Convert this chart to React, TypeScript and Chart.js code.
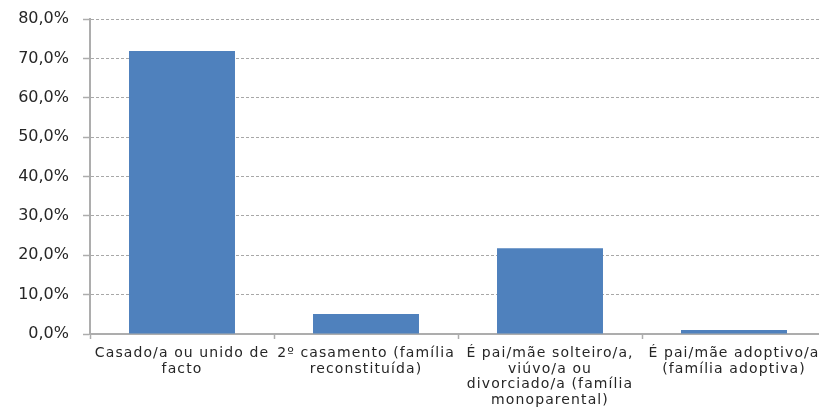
import React, { useEffect, useRef } from "react";
import { Chart, registerables } from "chart.js";

Chart.register(...registerables);

const categories: string[][] = [
  ["Casado/a ou unido de", "facto"],
  ["2º casamento (família", "reconstituída)"],
  ["É pai/mãe solteiro/a,", "viúvo/a ou", "divorciado/a (família", "monoparental)"],
  ["É pai/mãe adoptivo/a", "(família adoptiva)"],
];
const values: number[] = [71.9, 5.1, 21.8, 1.0];
const yMin = 0;
const yMax = 80;
const yStep = 10;

const spacingPlugin = {
  id: "xLabelSpacing",
  afterLayout(chart: any) {
    const s = chart.scales.x;
    if (!s || s.__wrapped) return;
    const orig = s.drawLabels.bind(s);
    s.drawLabels = (area: any) => {
      const ctx = chart.ctx;
      ctx.save();
      (ctx as any).letterSpacing = "1.1px";
      orig(area);
      ctx.restore();
    };
    s.__wrapped = true;
  },
};

export default function App() {
  const ref = useRef<HTMLCanvasElement | null>(null);
  useEffect(() => {
    if (!ref.current) return;
    const chart = new Chart(ref.current, {
      type: "bar",
      data: {
        labels: categories,
        datasets: [
          {
            data: values,
            backgroundColor: "#4F81BD",
            borderWidth: 0,
            categoryPercentage: 1,
            barPercentage: 0.576,
          },
        ],
      },
      plugins: [spacingPlugin],
      options: {
        responsive: false,
        animation: false,
        layout: { padding: { top: 19, right: 1, left: 0, bottom: 0 } },
        plugins: { legend: { display: false }, tooltip: { enabled: false } },
        scales: {
          x: {
            offset: true,
            grid: {
              offset: true,
              drawOnChartArea: false,
              drawTicks: true,
              tickLength: 5,
              tickColor: "#ADADAD",
              tickWidth: 1.5,
            },
            border: { display: true, color: "#ADADAD", width: 2 },
            ticks: {
              autoSkip: false,
              maxRotation: 0,
              minRotation: 0,
              padding: 7,
              color: "#262626",
              font: { family: "DejaVu Sans", size: 14, lineHeight: 1.1 },
            },
            afterFit: (s: any) => {
              s.height = 80;
            },
          },
          y: {
            min: yMin,
            max: yMax,
            grid: {
              color: "#A8A8A8",
              lineWidth: 1,
              drawTicks: true,
              tickLength: 7,
              tickColor: "#ADADAD",
              tickWidth: 1.5,
            },
            border: { display: true, color: "#ADADAD", width: 2, dash: [3, 2] },
            ticks: {
              stepSize: yStep,
              padding: 14,
              color: "#262626",
              font: { family: "DejaVu Sans", size: 16, lineHeight: 0.5 },
              callback: (v: any) => Number(v).toFixed(1).replace(".", ",") + "%",
            },
            afterFit: (s: any) => {
              s.width = 90;
            },
          },
        },
      },
    });
    return () => chart.destroy();
  }, []);
  return (
    <div style={{ position: "absolute", left: 0, top: 0, width: 819, height: 414, overflow: "hidden", background: "#fff" }}>
      <canvas ref={ref} width={827} height={414} />
    </div>
  );
}
